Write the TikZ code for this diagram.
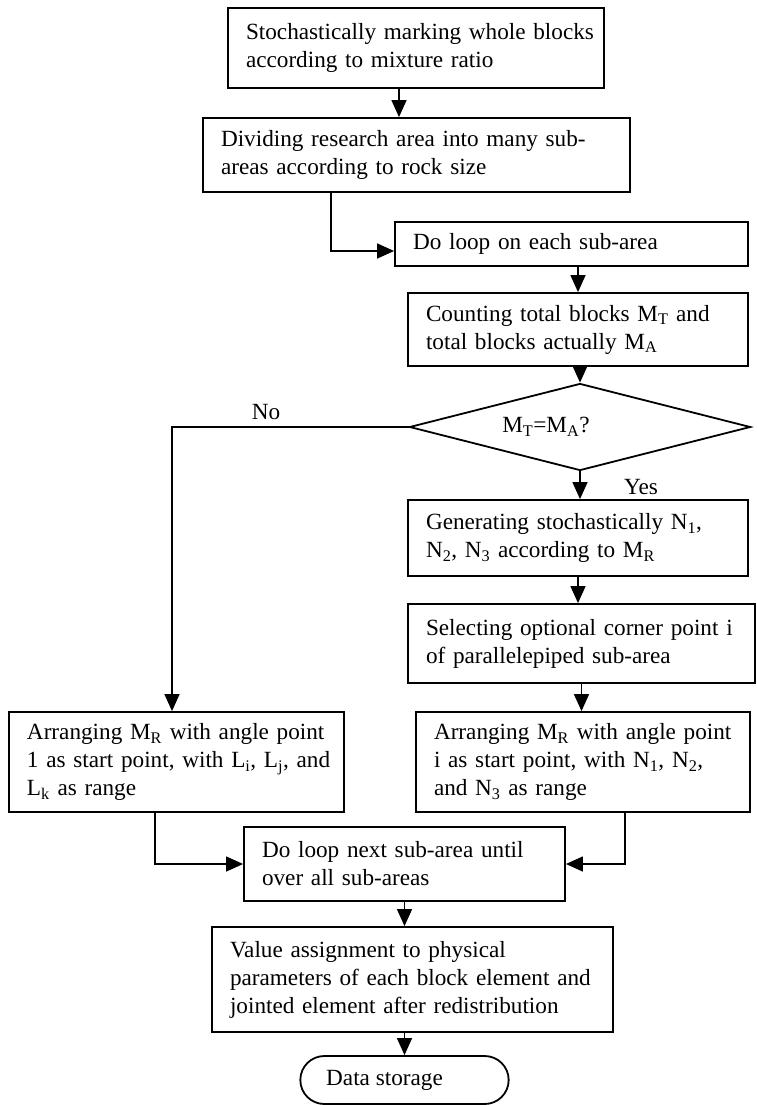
\documentclass[tikz,border=0pt]{standalone}
\usepackage{fontspec}
\setmainfont{Liberation Serif}
\usepackage{tikz}
\usetikzlibrary{shapes.geometric,shapes.misc,arrows.meta}

\begin{document}
\begin{tikzpicture}[x=1pt,y=-1pt,
		box/.style={draw=cbox,fill=cfbox,text=clbox,line width=1.8pt,rectangle,inner xsep=18pt,inner ysep=0pt,align=left,font=\fontsize{23.2}{28}\selectfont,execute at begin node={\rightskip=-24pt plus 1fil}},
		dec/.style={draw=cbox,fill=cfbox,text=clbox,line width=1.8pt,diamond,aspect=3.9,inner sep=0pt,minimum width=341pt,minimum height=87pt,font=\fontsize{23.2}{28}\selectfont},
		term/.style={draw=cbox,fill=cfbox,text=clbox,line width=1.8pt,rounded rectangle,minimum width=215pt,minimum height=48pt,font=\fontsize{23.2}{28}\selectfont},
		lbl/.style={text=clbox,font=\fontsize{23.2}{28}\selectfont},
		flow/.style={draw=cedge,line width=1.4pt,-{Triangle[width=15pt,length=17pt]}}]
			\definecolor{cbox}{rgb}{0.0,0.0,0.0}
			\definecolor{cfbox}{rgb}{1.0,1.0,1.0}
			\definecolor{clbox}{rgb}{0.0,0.0,0.0}
			\definecolor{cedge}{rgb}{0.0,0.0,0.0}
			%
			\useasboundingbox (0,0) rectangle (756,1105);
			%
			\node[box,text width=340pt,minimum height=80pt] (mark) at (416,48) {Stochastically marking whole blocks\\according to mixture ratio};
			\node[box,text width=391pt,minimum height=74pt] (divide) at (416.5,155) {Dividing research area into many sub-\\areas according to rock size};
			\node[box,text width=317pt,minimum height=44pt] (loop) at (571.5,244) {Do loop on each sub-area};
			\node[box,text width=304pt,minimum height=73pt] (count) at (578,329.5) {Counting total blocks M\textsubscript{T} and\\total blocks actually M\textsubscript{A}};
			\node[dec] (dia) at (580,427) {M\textsubscript{T}=M\textsubscript{A}?\hspace*{68pt}};
			\node[box,text width=304pt,minimum height=76pt] (gen) at (578,538) {Generating stochastically N\textsubscript{1},\\N\textsubscript{2}, N\textsubscript{3} according to M\textsubscript{R}};
			\node[box,text width=311pt,minimum height=79pt] (select) at (581.5,643.5) {Selecting optional corner point i\\of parallelepiped sub-area};
			\node[box,text width=298pt,minimum height=100pt] (arrR) at (583,762) {Arranging M\textsubscript{R} with angle point\\i as start point, with N\textsubscript{1}, N\textsubscript{2},\\and N\textsubscript{3} as range};
			\node[box,text width=299pt,minimum height=100pt] (arrL) at (176.5,762) {Arranging M\textsubscript{R} with angle point\\1 as start point, with L\textsubscript{i}, L\textsubscript{j}, and\\L\textsubscript{k} as range};
			\node[box,text width=285pt,minimum height=74pt] (next) at (404.5,864) {Do loop next sub-area until\\over all sub-areas};
			\node[box,text width=365pt,minimum height=105pt] (assign) at (412.5,979.5) {Value assignment to physical\\parameters of each block element and\\jointed element after redistribution};
			\node[term] (store) at (404.5,1080) {Data storage\hspace*{40pt}};
			%
			\node[lbl] (no) at (266,412) {No};
			\node[lbl] (yes) at (641,487) {Yes};
			%
			\coordinate (m1) at ([xshift=-17pt]mark.south);
			\coordinate (d1) at ([xshift=-85.5pt]divide.south);
			\coordinate (n1) at ([xshift=-4.5pt]arrL.north);
			\coordinate (l1) at ([xshift=-21.5pt]arrL.south);
			\coordinate (r1) at ([xshift=42pt]arrR.south);
			%
			\draw[flow] (m1) -- (m1 |- divide.north);
			\draw[flow] (d1) |- ([yshift=-7pt]loop.west);
			\draw[flow] (count.north |- loop.south) -- (count.north);
			\draw[flow] (dia.north |- count.south) -- (dia.north);
			\draw[flow] (dia.south) -- (dia.south |- gen.north);
			\draw[flow] (dia.west) -| (n1);
			\draw[flow] (gen.south) -- (gen.south |- select.north);
			\draw[flow] (select.south) -- (select.south |- arrR.north);
			\draw[flow] (l1) |- (next.west);
			\draw[flow] (r1) |- (next.east);
			\draw[flow] (next.south) -- (next.south |- assign.north);
			\draw[flow] (store.north |- assign.south) -- (store.north);
			%
		\end{tikzpicture}
\end{document}
